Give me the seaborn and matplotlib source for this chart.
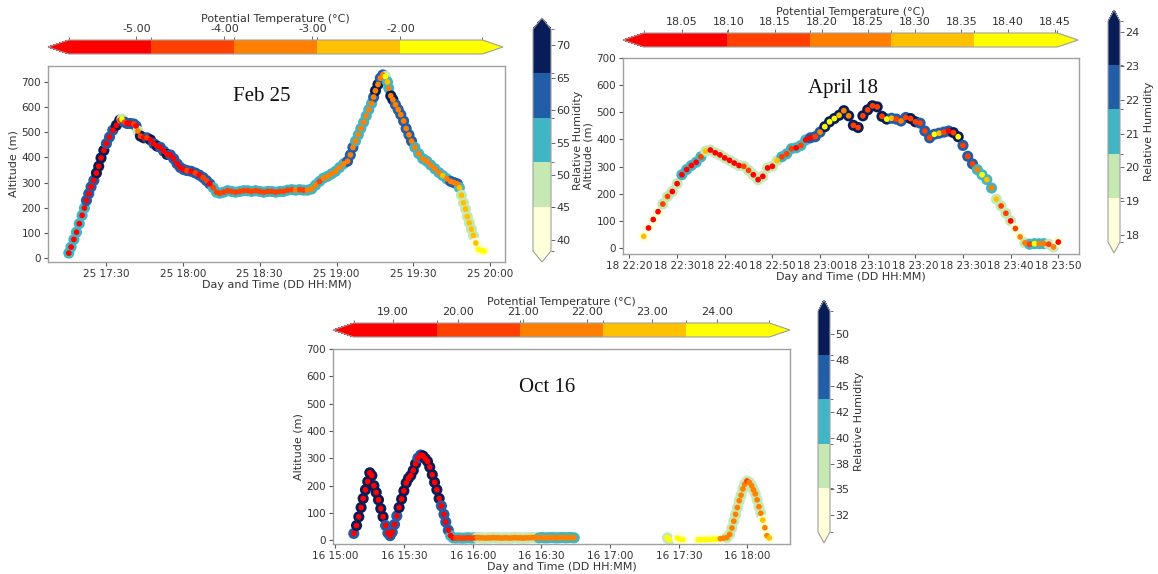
import numpy as np
import pandas as pd
import matplotlib
matplotlib.use("Agg")
import matplotlib.pyplot as plt
import matplotlib.dates as mdates
from matplotlib.colors import ListedColormap, BoundaryNorm
import seaborn as sns

# ---------------- Feb 25 (minutes after 17:00) ----------------
feb_minutes = [15.4, 16.3, 17.4, 18.4, 19.5, 20.6, 21.5, 22.3, 23.2, 24.1, 25.2, 26.2, 27.1, 28.0, 29.1, 30.1,
               31.3, 32.6, 34.0, 35.3, 36.2, 37.2, 38.2, 39.5, 40.8, 41.7, 42.4, 43.4, 44.7, 46.0, 47.3, 48.6,
               49.9, 51.2, 52.5, 53.8, 55.1, 56.4, 57.7, 59.0, 60.3, 61.6, 63.2, 64.9, 66.4, 67.9, 69.2, 70.5,
               71.8, 73.1, 74.4, 75.9, 77.5, 79.0, 80.6, 82.2, 83.7, 85.3, 86.8, 88.4, 90.0, 91.5, 93.1, 94.7,
               96.2, 97.8, 99.3, 100.9, 102.5, 104.0, 105.6, 107.1, 108.7, 110.3, 111.8, 113.4, 114.9, 116.5,
               118.1, 119.6, 121.2, 122.8, 124.3, 125.4, 126.4, 127.4, 128.5, 129.5, 130.6, 131.6, 132.6, 133.7,
               134.5, 135.2, 136.2, 137.1, 138.1, 139.1, 139.9, 140.4, 141.2, 142.0, 143.0, 144.1, 145.1, 146.2,
               147.2, 148.3, 149.3, 150.6, 152.1, 153.7, 155.3, 156.8, 158.4, 160.0, 161.5, 163.1, 164.6, 165.9,
               167.2, 168.0, 168.8, 169.6, 170.4, 171.1, 171.9, 172.7, 173.5, 174.4, 175.4, 176.7, 177.7]
feb_alt = [20, 44, 74, 103, 137, 170, 199, 229, 256, 283, 309, 338, 365, 398, 428, 455, 481, 508, 528, 548,
           552, 540, 535, 535, 533, 525, 505, 485, 478, 478, 470, 455, 445, 440, 425, 412, 410, 395, 375, 360,
           352, 348, 345, 338, 330, 320, 308, 295, 280, 262, 258, 262, 268, 265, 262, 265, 268, 268, 265, 268,
           265, 262, 265, 265, 262, 265, 265, 270, 272, 270, 272, 270, 270, 275, 290, 305, 318, 325, 335, 345,
           360, 375, 385, 410, 440, 465, 490, 515, 540, 565, 590, 615, 640, 665, 690, 715, 728, 722, 700, 675,
           645, 630, 610, 590, 570, 545, 515, 490, 465, 440, 415, 395, 385, 370, 355, 340, 328, 315, 305, 300,
           295, 280, 250, 220, 195, 165, 140, 115, 90, 60, 35, 30, 28]
feb_theta = [-5.4, -5.5, -5.3, -5.6, -5.4, -5.2, -5.5, -5.3, -5.4, -5.6, -5.5, -5.3, -5.4, -5.2, -5.5, -5.4,
             -5.3, -5.5, -5.2, -4.6, -1.6, -4.4, -5.1, -5.2, -4.5, -5.0, -3.5, -4.3, -5.1, -4.5,
             -5.2, -5.3, -5.1, -5.4, -5.2, -5.3, -5.5, -5.2, -5.4, -5.3, -5.1,
             -4.6, -5.0, -4.5, -5.1, -4.4, -4.6, -5.0,
             -4.5, -4.4, -4.3, -4.5, -4.4, -4.2, -4.4, -4.3, -4.5, -4.2, -4.4, -4.3, -4.1, -4.3, -4.4, -4.2,
             -4.3, -4.1, -4.2, -4.0, -4.1,
             -3.8, -4.0, -4.1, -3.7, -3.6, -3.5, -4.0,
             -3.5, -3.4, -3.6, -3.3, -3.4, -3.5, -3.3, -3.4, -3.2, -3.3, -3.4, -3.2, -3.3, -3.1, -3.2, -3.4,
             -3.3, -3.2, -3.1, -3.3, -3.0,
             -1.8, -2.4,
             -3.1, -3.2, -3.3, -3.4, -3.2, -3.3, -3.5, -3.4, -3.3, -3.2, -3.4, -3.3, -3.2, -3.1, -3.3, -3.2, -3.0,
             -2.7, -3.1, -3.2, -3.1, -3.0,
             -2.8, -2.7, -2.6, -2.5, -2.6, -2.4, -2.5, -2.3, -2.2,
             -1.9, -1.6, -1.4]
feb_rh = [55.2, 56.1, 54.8, 55.9, 56.7, 57.3, 57.9, 59.8, 61.2, 62.5, 63.9, 66.4, 68.1, 69.5, 68.8,
          64.9, 63.6, 62.8, 66.2, 67.5, 49.6, 61.4, 62.3, 63.1, 62.7, 61.9, 50.8, 66.1, 66.8, 64.7, 66.3,
          64.2, 66.0, 64.5, 63.8, 65.9,
          64.1, 63.5, 63.0, 62.6, 62.2, 61.8, 61.4, 60.9, 60.5, 60.0, 59.6, 59.1,
          58.5, 57.9, 57.2, 56.8, 56.5, 56.3, 56.0, 55.8, 55.7, 55.5, 55.4, 55.6, 55.3, 55.1, 55.2, 54.9,
          55.0, 54.8, 54.7, 54.9, 54.6, 54.8, 54.5, 54.7, 55.0, 55.3, 55.6, 56.0, 56.4, 56.9, 57.3, 57.8,
          58.2, 58.6,
          59.3, 59.8, 59.2, 58.4, 57.6, 56.9, 56.3, 56.8, 57.4, 58.1, 60.2, 66.0, 67.2, 64.4, 61.8, 48.7,
          53.5, 56.2, 66.3, 65.9, 64.8, 64.1, 63.5, 62.9, 62.1, 61.3, 60.2,
          58.3, 57.5, 56.8, 56.1, 55.6, 55.2, 54.8, 54.3, 55.9, 59.1, 59.6, 59.0, 55.4,
          51.6, 50.8, 50.1, 49.3, 48.5, 47.6, 46.5, 44.6, 43.1, 42.0, 41.2]
feb_theta_levels = [-5.77, -4.83, -3.89, -2.95, -2.01, -1.07]
feb_theta_ticks = [-5, -4, -3, -2]
feb_rh_levels = [38.3, 45.14, 51.98, 58.82, 65.66, 72.5]
feb_rh_ticks = [40, 45, 50, 55, 60, 65, 70]

# ---------------- April 18 (minutes after 22:00) ----------------
apr_minutes = [23, 24, 25, 26, 27, 28, 29, 30, 31, 32, 33, 34, 35, 36, 37, 38, 39, 40, 41, 42, 43, 44, 45, 46,
               47, 48, 49, 50, 51, 52, 53, 54, 55, 56, 57, 58, 59, 60, 61, 62, 63, 64, 65, 66, 67, 68, 69, 70,
               71, 72, 73, 74, 75, 76, 77, 78, 79, 80, 81, 82, 83, 84, 85, 86, 87, 88, 89, 90, 91, 92, 93, 94,
               95, 96, 97, 98, 99, 100, 101, 102, 103, 104, 105, 106, 107, 108, 109, 110]
apr_alt = [43, 74, 105, 134, 162, 190, 208, 237, 270, 289, 304, 316, 336, 357, 361, 351, 343, 332, 323, 313,
           304, 301, 286, 270, 252, 264, 295, 301, 322, 336, 347, 366, 369, 378, 398, 406, 410, 427, 447, 465,
           477, 489, 506, 487, 452, 444, 487, 509, 524, 520, 485, 475, 478, 475, 468, 481, 477, 465, 460, 431,
           406, 419, 423, 427, 431, 425, 410, 378, 338, 310, 289, 270, 252, 221, 180, 155, 128, 100, 72, 41,
           19, 14, 16, 16, 16, 14, 4, 22]
apr_theta = [18.31, 18.06, 18.05, 18.07, 18.12, 18.13, 18.08, 18.06, 18.05, 18.04, 18.05, 18.06, 18.11, 18.30,
             18.04, 18.05, 18.04, 18.06, 18.05, 18.07, 18.06, 18.12, 18.11, 18.07, 18.05, 18.06, 18.08, 18.07,
             18.32, 18.14, 18.15, 18.13, 18.08, 18.12, 18.09, 18.08, 18.13, 18.22, 18.40, 18.42, 18.39, 18.33,
             18.24, 18.21, 18.15, 18.16, 18.14, 18.16, 18.15, 18.14, 18.16, 18.41, 18.30, 18.15, 18.20, 18.16,
             18.15, 18.14, 18.13, 18.15, 18.14, 18.39, 18.31, 18.13, 18.08, 18.12, 18.40, 18.14, 18.15, 18.13,
             18.21, 18.41, 18.33, 18.22, 18.30, 18.14, 18.12, 18.07, 18.11, 18.20, 18.21, 18.13, 18.42, 18.23,
             18.22, 18.12, 18.20, 18.06]
apr_rh = [18.3, 18.5, 18.6, 18.8, 19.3, 19.5, 19.7, 20.0, 20.6, 20.8, 21.0, 21.2, 20.9, 20.2, 19.9, 19.7,
          19.6, 19.5, 19.4, 19.4, 19.5, 19.6, 19.4, 19.3, 19.5, 19.7, 19.9, 20.1, 20.3, 20.6, 20.8, 21.0,
          21.2, 21.4, 21.5, 21.9, 22.1, 22.5, 23.3, 23.6, 23.9, 24.0, 24.1, 23.8, 23.5, 23.4, 23.7, 24.0,
          24.1, 23.9, 23.3, 23.2, 22.8, 22.6, 22.7, 22.9, 23.2, 23.3, 22.8, 22.4, 22.2, 22.5, 22.6, 22.8,
          22.9, 23.2, 23.4, 22.7, 22.3, 22.0, 21.5, 21.2, 21.0, 20.7, 20.2, 19.9, 19.6, 19.4, 19.0, 18.8,
          19.5, 20.7, 20.9, 20.8, 20.6, 19.8, 19.4, 18.7]
apr_theta_levels = [18.009, 18.098, 18.187, 18.275, 18.364, 18.453]
apr_theta_ticks = [18.05, 18.10, 18.15, 18.20, 18.25, 18.30, 18.35, 18.40, 18.45]
apr_rh_levels = [17.8, 19.10, 20.41, 21.71, 23.02, 24.32]
apr_rh_ticks = [18, 19, 20, 21, 22, 23, 24]

# ---------------- Oct 16 (minutes after 15:00) ----------------
oct_minutes = [8.0, 9.2, 10.2, 11.2, 12.1, 13.1, 14.1, 15.0, 15.9, 16.8, 17.8, 18.8, 19.8, 20.8, 21.9, 22.9,
               23.9, 24.8, 25.8, 26.8, 27.8, 28.9, 29.9, 30.9, 31.9, 32.9, 34.0, 35.0, 36.0, 37.2, 38.2, 39.2,
               40.2, 41.2, 42.3, 43.3, 44.3, 45.3, 46.3, 47.4, 48.2, 49.3, 50.3, 51.4,
               52.6, 53.7, 54.9, 56.1, 57.3, 58.4, 59.6, 60.8, 62.0, 63.1, 64.3, 65.5, 66.7, 67.8, 69.0, 70.2,
               71.4, 72.5, 73.7, 74.9, 76.1, 77.2, 78.4, 79.6, 80.8, 81.9, 83.1, 84.3, 85.5, 86.6, 87.8, 89.0,
               90.2, 91.3, 92.5, 93.7, 94.9, 96.0, 97.2, 98.4, 99.6, 100.7, 101.9, 103.1, 104.3,
               145.0, 145.9, 149.4, 150.6, 151.8, 158.4, 159.8, 161.2, 162.6, 164.0, 165.4, 166.8, 168.2,
               169.6, 171.0, 172.2, 173.2, 174.0, 174.8, 175.6, 176.4, 177.2, 178.0, 178.8, 179.8, 180.8,
               181.8, 182.6, 183.4, 184.2, 185.0, 185.8, 186.7, 187.6, 188.5, 189.5]
oct_alt = [25, 54, 86, 120, 153, 185, 215, 247, 237, 200, 175, 148, 116, 86, 54, 27, 17, 30, 58, 89, 120, 151,
           181, 210, 227, 237, 256, 280, 301, 312, 309, 299, 289, 268, 240, 212, 185, 153, 126, 95, 67, 37, 17, 9,
           8, 9, 8, 8, 9, 9, 8, 9, 10, 9, 9, 8, 9, 9, 10, 9, 9, 8, 9, 9, 8, 9, 10, 9, 9, 8, 9, 9, 10, 10, 9, 9,
           10, 9, 9, 10, 10, 9, 9, 10, 10, 9, 10, 10, 9,
           9, 2, 8, 4, 2, 2, 2, 3, 3, 3, 4, 5, 6, 8, 10, 22, 45, 70, 95, 120, 145, 165, 188, 205, 217, 212,
           200, 185, 170, 148, 123, 99, 74, 46, 17, 9]
oct_theta = [19.1, 18.9, 19.0, 19.2, 18.8, 19.0, 19.3, 19.1, 18.9, 19.0, 19.2, 19.1, 18.8, 19.0, 19.3, 19.2,
             19.0, 18.9, 19.1, 19.2, 19.0, 18.8, 19.1, 19.3, 19.2, 19.0, 18.9, 19.1, 19.0, 18.8, 19.0, 19.2,
             19.1, 19.3, 19.0, 18.9, 19.2, 19.1, 19.3, 19.4, 19.2, 19.4, 19.5, 19.6,
             20.1, 20.3, 20.2, 20.4, 20.5, 20.3, 20.6, 20.7,
             21.1, 21.2, 21.3, 21.2, 21.4, 21.5, 21.3, 21.6, 21.5, 21.7, 21.6, 21.8, 21.7, 21.6, 21.8, 21.9,
             21.7, 21.8, 22.0, 21.9, 21.8, 22.0, 22.1, 21.9, 22.0, 21.8, 22.1, 22.0, 21.9, 22.1, 22.0, 21.8,
             21.9, 22.1, 22.0, 21.9, 22.1,
             24.3, 24.4, 24.5, 24.6, 24.5, 24.6, 24.7, 24.6, 24.5, 24.4, 24.2, 23.9,
             22.0, 21.8, 21.6, 21.4, 21.5, 21.6, 21.7, 21.5, 21.6, 21.4, 21.5, 21.3, 20.9, 21.2, 21.4, 21.5,
             21.6, 21.7, 21.8, 22.0, 22.4, 21.9, 22.1, 22.5]
oct_rh = [46.5, 48.5, 49.2, 49.8, 50.3, 50.9, 51.4, 51.8, 51.5, 51.0, 50.4, 49.7, 49.0, 48.4,
          47.6, 46.9, 46.2, 46.8, 47.3, 47.7, 48.2, 48.9, 49.6, 50.2, 50.8, 51.3, 51.7, 51.9, 47.5, 47.2,
          48.3, 49.1, 49.6, 50.0, 49.7, 49.2, 48.7, 48.1, 47.4, 46.6, 45.8, 45.0, 43.1, 42.3,
          42.0, 41.7, 41.4, 41.1, 40.8, 40.5, 40.2, 39.9,
          39.1, 38.8, 38.6, 38.3, 38.1, 37.9, 37.6, 37.4, 37.3, 37.1, 37.0, 36.8, 36.9, 37.1, 37.3, 37.5,
          37.8, 38.0, 38.3, 38.6, 38.9, 39.1, 39.3,
          39.6, 39.8, 40.1, 40.3, 40.6, 40.8, 41.0, 41.2, 41.5, 41.7, 41.9, 42.1, 42.3, 42.5,
          36.2, 35.8, 33.5, 33.2, 32.9, 32.4, 32.2, 32.0, 31.8, 31.9, 32.1, 32.4, 32.8, 33.5, 35.4, 35.9,
          36.4, 36.8, 37.2, 37.5, 37.8, 38.0, 38.2, 38.3, 38.4, 38.1, 37.7, 37.2, 36.8, 36.3, 35.9, 35.5,
          34.9, 34.3, 33.6, 33.0]
oct_theta_levels = [18.40, 19.68, 20.96, 22.24, 23.52, 24.80]
oct_theta_ticks = [19, 20, 21, 22, 23, 24]
oct_rh_levels = [30.9, 35.16, 39.42, 43.68, 47.94, 52.2]
oct_rh_ticks = [32.5, 35, 37.5, 40, 42.5, 45, 47.5, 50]

panel_titles = ["Feb 25", "April 18", "Oct 16"]
panel_starts = ["2021-02-25 17:00", "2021-04-18 22:00", "2021-10-16 15:00"]

# ---------------- style ----------------
sns.set_style("ticks")
plt.rcParams.update({
    "font.family": ["DejaVu Sans"],
    "font.size": 8,
    "axes.labelsize": 8,
    "xtick.labelsize": 7.5,
    "ytick.labelsize": 7.5,
    "axes.edgecolor": "#a0a0a0",
    "axes.labelcolor": "#333333",
    "xtick.color": "#555555",
    "ytick.color": "#555555",
    "xtick.labelcolor": "#333333",
    "ytick.labelcolor": "#333333",
    "axes.linewidth": 1.0,
})

W, H = 1158, 574
fig = plt.figure(figsize=(W / 100, H / 100), dpi=100)


def box(x0, y0, x1, y1):
    return [x0 / W, 1 - y1 / H, (x1 - x0) / W, (y1 - y0) / H]


theta_cmap = ListedColormap(plt.cm.autumn(np.linspace(0, 1, 5)))
rh_cmap = ListedColormap(plt.cm.YlGnBu(np.linspace(0, 1, 5)))

panels = [
    dict(title=panel_titles[0], start=panel_starts[0], minutes=feb_minutes, alt=feb_alt, theta=feb_theta, rh=feb_rh,
         tlev=feb_theta_levels, tticks=feb_theta_ticks, rlev=feb_rh_levels, rticks=feb_rh_ticks,
         ax=(48, 66, 505, 262), tcb=(48, 40, 503, 54), rcb=(533, 18, 551, 262), rpad=1.5,
         loc=mdates.MinuteLocator(byminute=[0, 30]), top=None, tpos=(0.468, 0.842)),
    dict(title=panel_titles[1], start=panel_starts[1], minutes=apr_minutes, alt=apr_alt, theta=apr_theta, rh=apr_rh,
         tlev=apr_theta_levels, tticks=apr_theta_ticks, rlev=apr_rh_levels, rticks=apr_rh_ticks,
         ax=(623, 58, 1079, 254), tcb=(623, 33, 1078, 47), rcb=(1108, 10, 1120, 253), rpad=3,
         loc=mdates.MinuteLocator(byminute=range(0, 60, 10)), top=700, tpos=(0.482, 0.842)),
    dict(title=panel_titles[2], start=panel_starts[2], minutes=oct_minutes, alt=oct_alt, theta=oct_theta, rh=oct_rh,
         tlev=oct_theta_levels, tticks=oct_theta_ticks, rlev=oct_rh_levels, rticks=oct_rh_ticks,
         ax=(333, 349, 790, 544), tcb=(333, 323, 790, 337), rcb=(818, 300, 830, 543), rpad=3,
         loc=mdates.MinuteLocator(byminute=[0, 30]), top=700, tpos=(0.468, 0.805)),
]

for p in panels:
    ax = fig.add_axes(box(*p["ax"]))
    df = pd.DataFrame({
        "time": pd.Timestamp(p["start"]) + pd.to_timedelta(p["minutes"], unit="min"),
        "alt": p["alt"], "theta": p["theta"], "rh": p["rh"],
    })
    tnorm = BoundaryNorm(p["tlev"], 5)
    rnorm = BoundaryNorm(p["rlev"], 5)
    sns.scatterplot(data=df, x="time", y="alt", hue="rh", palette=rh_cmap, hue_norm=rnorm,
                    s=64, linewidth=0, legend=False, ax=ax, zorder=2)
    sns.scatterplot(data=df, x="time", y="alt", hue="theta", palette=theta_cmap, hue_norm=tnorm,
                    s=17, linewidth=0, legend=False, ax=ax, zorder=3)
    if p["top"] is not None:
        ax.set_ylim(top=p["top"])
    ax.set_yticks(range(0, 701, 100))
    ax.xaxis.set_major_locator(p["loc"])
    ax.xaxis.set_major_formatter(mdates.DateFormatter("%d %H:%M"))
    ax.set_xlabel("Day and Time (DD HH:MM)", labelpad=1)
    ax.set_ylabel("Altitude (m)", labelpad=2)
    ax.tick_params(length=3, width=0.8, pad=2)
    ax.text(p["tpos"][0], p["tpos"][1], p["title"], transform=ax.transAxes, ha="center", va="center",
            fontsize=15, family="Liberation Serif", color="#111111")

    # temperature colorbar (horizontal, on top)
    tcax = fig.add_axes(box(*p["tcb"]))
    sm_t = plt.cm.ScalarMappable(norm=tnorm, cmap=theta_cmap)
    cb_t = fig.colorbar(sm_t, cax=tcax, orientation="horizontal", extend="both",
                        ticks=p["tticks"], format="%.2f", spacing="proportional")
    cb_t.ax.xaxis.set_ticks_position("top")
    cb_t.ax.xaxis.set_label_position("top")
    cb_t.set_label("Potential Temperature (°C)", fontsize=8, labelpad=2, color="#333333")
    cb_t.ax.tick_params(labelsize=8, length=3, width=0.6, pad=1)
    cb_t.outline.set_edgecolor("#a0a0a0")
    cb_t.outline.set_linewidth(0.8)

    # relative humidity colorbar (vertical)
    rcax = fig.add_axes(box(*p["rcb"]))
    sm_r = plt.cm.ScalarMappable(norm=rnorm, cmap=rh_cmap)
    cb_r = fig.colorbar(sm_r, cax=rcax, orientation="vertical", extend="both",
                        ticks=p["rticks"], format="%.0f", spacing="proportional")
    cb_r.set_label("Relative Humidity", fontsize=8, labelpad=p["rpad"], color="#333333")
    cb_r.ax.tick_params(labelsize=8, length=3, width=0.6, pad=1)
    cb_r.outline.set_edgecolor("#a0a0a0")
    cb_r.outline.set_linewidth(0.8)

fig.savefig("out.png", dpi=100)
